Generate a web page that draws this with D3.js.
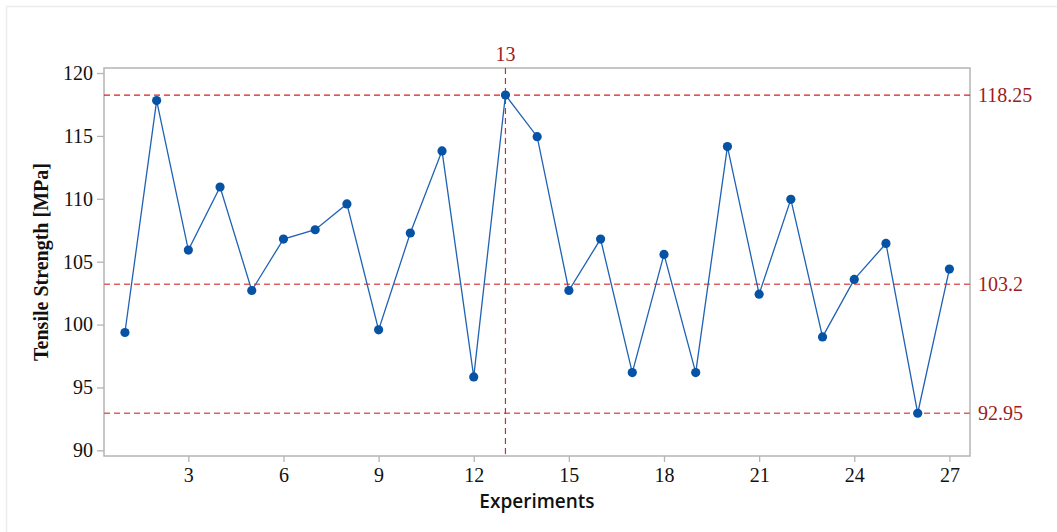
<!DOCTYPE html>
<html>
<head>
<meta charset="utf-8">
<script src="https://cdn.jsdelivr.net/npm/d3@7"></script>
<style>
  html, body { margin: 0; padding: 0; background: #fff; }
  svg { display: block; }
</style>
</head>
<body>
<svg id="chart" width="1057" height="532"></svg>
<script>
// Tensile strength measured in each of the 27 experiments
const experiments = d3.range(1, 28);
const strength = [
  99.37, 117.81, 105.92, 110.94, 102.71, 106.80, 107.54, 109.59, 99.58,
  107.28, 113.81, 95.84, 118.25, 114.94, 102.71, 106.80, 96.18, 105.58,
  96.18, 114.15, 102.42, 109.96, 99.02, 103.59, 106.45, 92.95, 104.41
];
const xTicks = [3, 6, 9, 12, 15, 18, 21, 24, 27];
const yTicks = [90, 95, 100, 105, 110, 115, 120];

// Reference levels: maximum, mean, minimum; and the experiment with the maximum
const refLevels = [118.25, 103.2, 92.95];
const refLabels = ["118.25", "103.2", "92.95"];
const markedExperiment = 13;

const svg = d3.select("#chart");
const plotLeft = 104, plotRight = 970, plotTop = 68, plotBottom = 456;

const x = d3.scaleLinear().domain([0.34, 27.65]).range([plotLeft, plotRight]);
const y = d3.scaleLinear().domain([89.55, 120.4]).range([plotBottom, plotTop]);

// thin outer page frame
svg.append("path")
  .attr("d", `M6.5,532 V6.5 H1057`)
  .attr("fill", "none").attr("stroke", "#ececec").attr("stroke-width", 1.5);

const serif = "'Liberation Serif', 'Times New Roman', serif";
const frameColor = "#b4b4b4";

// axes
const yAxis = svg.append("g")
  .attr("transform", `translate(${plotLeft},0)`)
  .call(d3.axisLeft(y).tickValues(yTicks).tickSize(7).tickPadding(4).tickFormat(d3.format("d")));
const xAxis = svg.append("g")
  .attr("transform", `translate(0,${plotBottom})`)
  .call(d3.axisBottom(x).tickValues(xTicks).tickSize(6).tickPadding(6).tickFormat(d3.format("d")));

[yAxis, xAxis].forEach(g => {
  g.select(".domain").remove();
  g.selectAll(".tick line").attr("stroke", frameColor).attr("stroke-width", 1.3);
  g.selectAll(".tick text")
    .attr("fill", "#111")
    .style("font-family", serif)
    .style("font-size", "20px");
});

// plot frame
svg.append("rect")
  .attr("x", plotLeft).attr("y", plotTop)
  .attr("width", plotRight - plotLeft).attr("height", plotBottom - plotTop)
  .attr("fill", "none").attr("stroke", frameColor).attr("stroke-width", 1.5);

// horizontal reference lines
svg.selectAll("line.ref")
  .data(refLevels)
  .join("line")
  .attr("class", "ref")
  .attr("x1", plotLeft).attr("x2", plotRight)
  .attr("y1", d => y(d)).attr("y2", d => y(d))
  .attr("stroke", (d, i) => i === 0 ? "#e01a1a" : "#e26060")
  .attr("stroke-width", (d, i) => i === 0 ? 1.2 : 1.6)
  .attr("stroke-dasharray", "6,4");

svg.selectAll("text.reflabel")
  .data(refLevels)
  .join("text")
  .attr("class", "reflabel")
  .attr("x", plotRight + 8)
  .attr("y", d => y(d))
  .attr("dy", "0.34em")
  .attr("fill", "#9e1b20")
  .style("font-family", serif)
  .style("font-size", "20px")
  .text((d, i) => refLabels[i]);

// vertical marker line
svg.append("line")
  .attr("x1", x(markedExperiment)).attr("x2", x(markedExperiment))
  .attr("y1", plotTop).attr("y2", plotBottom)
  .attr("stroke", "#d42a2a").attr("stroke-width", 1.2)
  .attr("stroke-dasharray", "6,4");
svg.append("text")
  .attr("x", x(markedExperiment)).attr("y", plotTop - 7)
  .attr("text-anchor", "middle")
  .attr("fill", "#9e1b20")
  .style("font-family", serif)
  .style("font-size", "20px")
  .text(markedExperiment);

// series line and points
const pts = experiments.map((e, i) => [e, strength[i]]);
svg.append("path")
  .datum(pts)
  .attr("fill", "none")
  .attr("stroke", "#1f62b4")
  .attr("stroke-width", 1.3)
  .attr("d", d3.line().x(d => x(d[0])).y(d => y(d[1])));
svg.selectAll("circle.pt")
  .data(pts)
  .join("circle")
  .attr("class", "pt")
  .attr("cx", d => x(d[0])).attr("cy", d => y(d[1]))
  .attr("r", 4.6)
  .attr("fill", "#0653a6");

// axis titles
svg.append("text")
  .attr("transform", `translate(48,${(plotTop + plotBottom) / 2}) rotate(-90)`)
  .attr("text-anchor", "middle")
  .attr("fill", "#111")
  .style("font-family", serif)
  .style("font-weight", "bold")
  .style("font-size", "20px")
  .text("Tensile Strength [MPa]");
svg.append("text")
  .attr("x", (plotLeft + plotRight) / 2).attr("y", 508)
  .attr("text-anchor", "middle")
  .attr("fill", "#111")
  .style("font-family", "'Open Sans', 'Noto Sans', sans-serif")
  .style("font-weight", "600")
  .style("font-size", "19px")
  .text("Experiments");
</script>
</body>
</html>
